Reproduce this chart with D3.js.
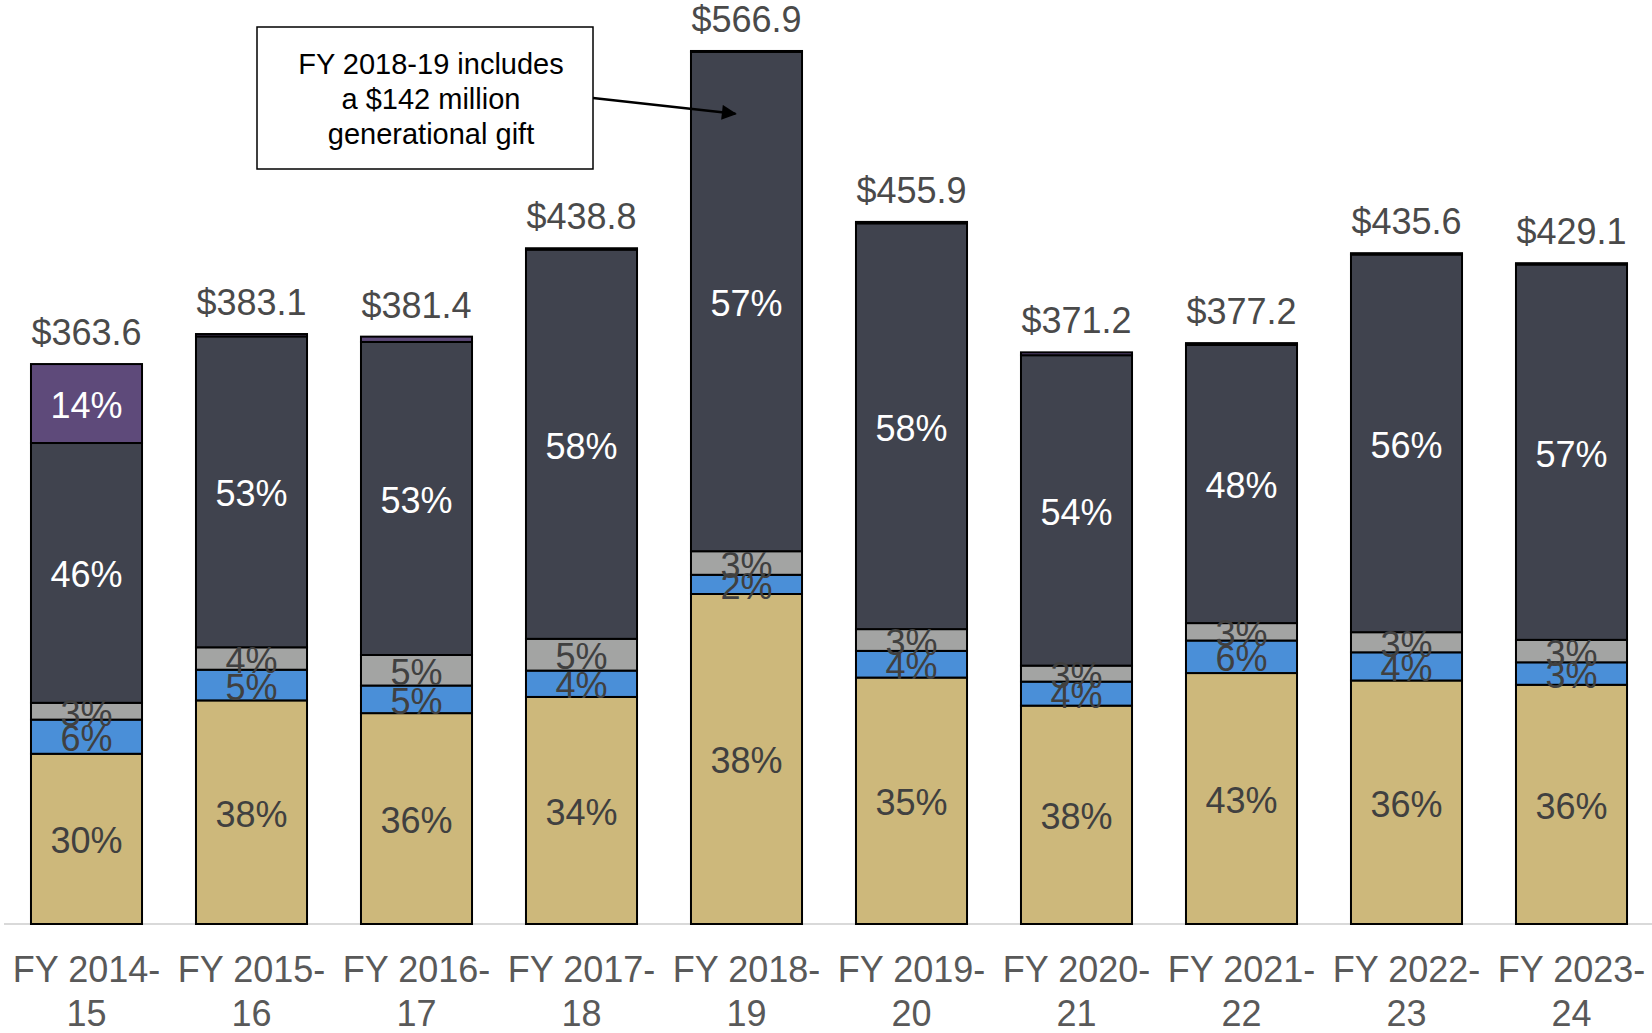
<!DOCTYPE html>
<html>
<head>
<meta charset="utf-8">
<script src="https://cdn.jsdelivr.net/npm/d3@7"></script>
<style>
  html, body { margin: 0; padding: 0; background: #fff; }
  svg { display: block; font-family: "Liberation Sans", Arial, Helvetica, sans-serif; }
</style>
</head>
<body>
<svg id="chart" width="1652" height="1033"></svg>
<script>
// ---- Data ----
const categories = ["FY 2014-15","FY 2015-16","FY 2016-17","FY 2017-18","FY 2018-19",
                    "FY 2019-20","FY 2020-21","FY 2021-22","FY 2022-23","FY 2023-24"];
const totals = [363.6, 383.1, 381.4, 438.8, 566.9, 455.9, 371.2, 377.2, 435.6, 429.1];
// Share of total (%) for each stacked series, bottom to top
const goldShare   = [30.4, 37.9, 35.9, 33.6, 37.8, 35.1, 38.2, 43.2, 36.3, 36.2];
const blueShare   = [ 6.1,  5.2,  4.7,  3.9,  2.2,  3.8,  4.2,  5.6,  4.2,  3.4];
const grayShare   = [ 3.0,  3.8,  5.2,  4.7,  2.7,  3.1,  2.8,  3.0,  3.0,  3.4];
const darkShare   = [46.4, 52.7, 53.3, 57.6, 57.2, 57.8, 54.3, 47.9, 56.3, 56.8];
const purpleShare = [14.1,  0.4,  0.9,  0.2,  0.1,  0.2,  0.5,  0.3,  0.2,  0.2];
const seriesNames = ["gold","blue","gray","dark","purple"];
const yTicks = [0, 600];
const annotationLines = ["FY 2018-19 includes", "a $142 million", "generational gift"];

// ---- Build table ----
const shares = {gold: goldShare, blue: blueShare, gray: grayShare, dark: darkShare, purple: purpleShare};
const table = categories.map((c, i) => {
  const row = {category: c, total: totals[i]};
  seriesNames.forEach(s => { row[s] = totals[i] * shares[s][i] / 100; });
  return row;
});

const colors = {gold: "#CDB87B", blue: "#4A8FD8", gray: "#A3A4A3", dark: "#40434E", purple: "#5E4A7A"};
const labelColors = {gold: "#404040", blue: "#404040", gray: "#404040", dark: "#FFFFFF", purple: "#FFFFFF"};

const svg = d3.select("#chart");
const x = d3.scaleBand().domain(categories).range([4, 1654]).paddingInner(0.327).paddingOuter(0.1635);
const y = d3.scaleLinear().domain([yTicks[0], yTicks[1]]).range([924, 0]);

const stack = d3.stack().keys(seriesNames);
const stacked = stack(table);

// axis baseline
const xAxis = d3.axisBottom(x).tickSize(0).tickFormat("");
const gx = svg.append("g").attr("transform", `translate(0,${y(0)})`).call(xAxis);
gx.select(".domain").attr("stroke", "#D9D9D9").attr("stroke-width", 2).attr("d", `M4,0H1652`);

// bars
const layers = svg.append("g").selectAll("g").data(stacked).join("g")
  .attr("fill", d => colors[d.key]);
layers.selectAll("rect").data(d => d.map(v => Object.assign(v, {key: d.key}))).join("rect")
  .attr("x", d => x(d.data.category))
  .attr("width", x.bandwidth())
  .attr("y", d => y(d[1]))
  .attr("height", d => Math.max(0, y(d[0]) - y(d[1])))
  .attr("stroke", "#000")
  .attr("stroke-width", 2);

// percent labels
const labels = svg.append("g");
stacked.forEach(layer => {
  layer.forEach(d => {
    const pct = Math.round((d[1] - d[0]) / d.data.total * 100);
    if (pct < 2) return;
    labels.append("text")
      .attr("x", x(d.data.category) + x.bandwidth() / 2)
      .attr("y", (y(d[0]) + y(d[1])) / 2 + 2)
      .attr("text-anchor", "middle")
      .attr("dominant-baseline", "central")
      .attr("font-size", 36)
      .attr("fill", labelColors[layer.key])
      .text(pct + "%");
  });
});

// total labels
svg.append("g").selectAll("text").data(table).join("text")
  .attr("x", d => x(d.category) + x.bandwidth() / 2)
  .attr("y", d => y(d.total) - 19)
  .attr("text-anchor", "middle")
  .attr("font-size", 36)
  .attr("fill", "#4A4A4A")
  .text(d => "$" + d.total.toFixed(1));

// category labels (two lines)
const xl = svg.append("g").selectAll("text").data(categories).join("text")
  .attr("x", d => x(d) + x.bandwidth() / 2)
  .attr("text-anchor", "middle")
  .attr("font-size", 36)
  .attr("fill", "#595959");
xl.append("tspan").attr("x", d => x(d) + x.bandwidth() / 2).attr("y", 982)
  .text(d => d.split("-")[0] + "-");
xl.append("tspan").attr("x", d => x(d) + x.bandwidth() / 2).attr("y", 1026)
  .text(d => d.split("-")[1]);

// annotation
const defs = svg.append("defs");
defs.append("marker").attr("id", "arrow").attr("viewBox", "0 0 10 10")
  .attr("refX", 9).attr("refY", 5).attr("markerWidth", 7).attr("markerHeight", 6)
  .attr("orient", "auto").attr("markerUnits", "strokeWidth")
  .append("path").attr("d", "M0,0L10,5L0,10z").attr("fill", "#000");

const giftBar = categories[4];
const ax2 = x(giftBar) + x.bandwidth() * 0.4;
const ay2 = y(table[4].total * 0.928);
svg.append("line")
  .attr("x1", 593).attr("y1", 98).attr("x2", ax2).attr("y2", ay2)
  .attr("stroke", "#000").attr("stroke-width", 2.5).attr("marker-end", "url(#arrow)");

svg.append("rect").attr("x", 257).attr("y", 27).attr("width", 336).attr("height", 142)
  .attr("fill", "#fff").attr("stroke", "#000").attr("stroke-width", 1.5);
svg.append("g").selectAll("text").data(annotationLines).join("text")
  .attr("x", 431)
  .attr("y", (d, i) => 64 + i * 35)
  .attr("text-anchor", "middle")
  .attr("dominant-baseline", "central")
  .attr("font-size", 29)
  .attr("fill", "#000")
  .text(d => d);
</script>
</body>
</html>
